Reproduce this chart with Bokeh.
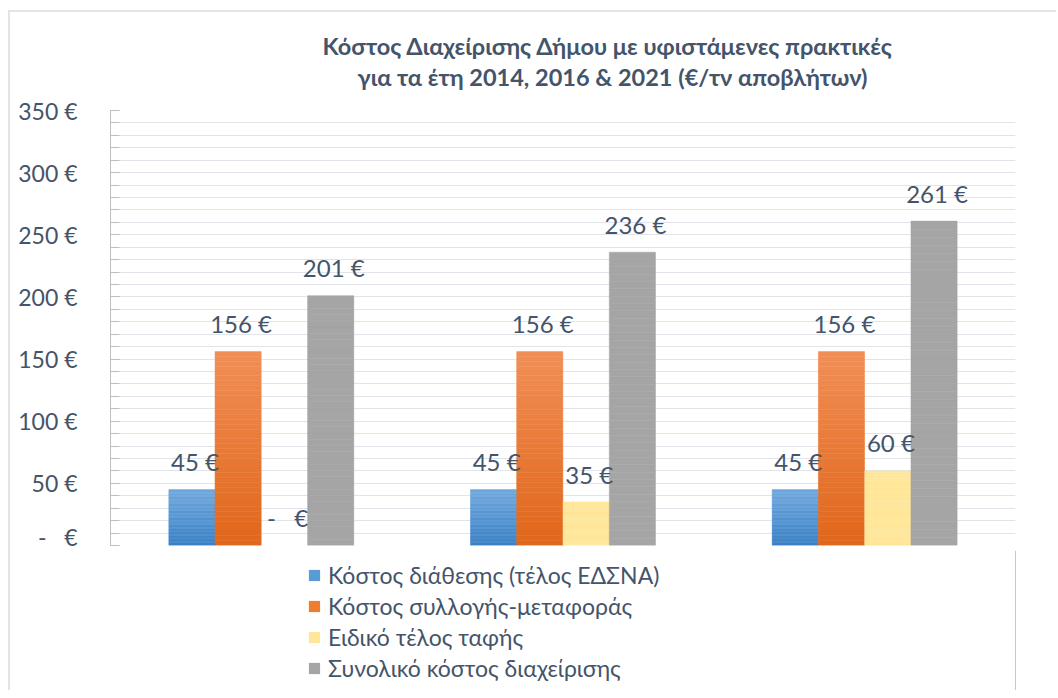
from bokeh.plotting import figure
from bokeh.layouts import column
from bokeh.models import (Range1d, FactorRange, ColumnDataSource, Legend, LegendItem,
                          Title, SingleIntervalTicker)
from bokeh.transform import dodge
from bokeh.core.properties import value
from bokeh.embed import file_html
from bokeh.resources import INLINE

# ---- data ----
years = ["2014", "2016", "2021"]
series_names = ["Κόστος διάθεσης (τέλος ΕΔΣΝΑ)", "Κόστος συλλογής-μεταφοράς",
                "Ειδικό τέλος ταφής", "Συνολικό κόστος διαχείρισης"]
disposal = [45, 45, 45]
collection = [156, 156, 156]
landfill_tax = [0, 35, 60]
total = [201, 236, 261]
y_tick_values = [0, 50, 100, 150, 200, 250, 300, 350]
y_tick_labels = ["-\u00a0\u00a0\u00a0€", "50 €", "100 €", "150 €", "200 €", "250 €", "300 €", "350 €"]
title_lines = ["Κόστος Διαχείρισης Δήμου με υφιστάμενες πρακτικές",
               "για τα έτη 2014, 2016 & 2021 (€/τν αποβλήτων)"]

# ---- styling ----
colors = ["#5b9bd5", "#ed7d31", "#ffe699", "#a5a5a5"]
grad_top = ["#71a8de", "#f18e56", "#ffe699", "#a5a5a5"]
grad_bot = ["#3c82c6", "#e0671a", "#ffe699", "#a5a5a5"]
offsets = [-0.23, -0.077, 0.077, 0.23]
bar_w = 0.153
text_col = "#44546a"
FONT = "Lato"
N_SLICES = 40
LEFT, RIGHT, W = 100, 41, 1046


def fmt(v):
    return "-\u00a0\u00a0\u00a0€" if v == 0 else f"{v} €"


def hex2rgb(h):
    h = h.lstrip("#")
    return [int(h[i:i + 2], 16) for i in (0, 2, 4)]


def mix(c1, c2, t):
    a, b = hex2rgb(c1), hex2rgb(c2)
    return "#%02x%02x%02x" % tuple(int(round(a[k] + (b[k] - a[k]) * t)) for k in range(3))


p = figure(x_range=FactorRange(*years, range_padding=0), y_range=Range1d(0, 350),
           width=W, height=538, output_backend="svg", toolbar_location=None,
           min_border_left=LEFT, min_border_right=RIGHT, min_border_top=98,
           min_border_bottom=5)
p.outline_line_color = None
p.background_fill_color = "white"
p.border_fill_color = "white"

all_series = [disposal, collection, landfill_tax, total]
# bars first (drawn as stacked slices to reproduce the vertical colour gradient)
for vals, c_top, c_bot, off in zip(all_series, grad_top, grad_bot, offsets):
    xs, bots, tops, cols = [], [], [], []
    for yr, v in zip(years, vals):
        if v == 0:
            continue
        for i in range(N_SLICES):
            xs.append(yr)
            bots.append(v * i / N_SLICES)
            tops.append(v * (i + 1) / N_SLICES)
            cols.append(mix(c_bot, c_top, (i + 0.5) / N_SLICES))
    bsrc = ColumnDataSource(dict(year=xs, bottom=bots, top=tops, color=cols))
    p.vbar(x=dodge("year", off, range=p.x_range), bottom="bottom", top="top", width=bar_w,
           source=bsrc, fill_color="color", line_color="color", line_width=0.5)
# then value labels on top
for vals, off in zip(all_series, offsets):
    src = ColumnDataSource(dict(year=years, val=vals, lab=[fmt(v) for v in vals]))
    p.text(x=dodge("year", off, range=p.x_range), y="val", text="lab", source=src,
           text_align="center", text_baseline="middle", x_offset=3, y_offset=-28,
           text_font=value(FONT), text_font_size="24px", text_color=text_col)

# axes
p.xaxis.visible = False
p.xgrid.visible = False
ax = p.yaxis[0]
ax.ticker = SingleIntervalTicker(interval=50, num_minor_ticks=5)
ax.major_label_overrides = {v: l for v, l in zip(y_tick_values, y_tick_labels)}
ax.major_label_text_font = FONT
ax.major_label_text_font_size = "23px"
ax.major_label_text_color = text_col
ax.major_label_standoff = 33
ax.axis_line_color = "#bfbfbf"
ax.major_tick_line_color = "#bfbfbf"
ax.minor_tick_line_color = "#bfbfbf"
ax.major_tick_in = 9
ax.major_tick_out = 0
ax.minor_tick_in = 9
ax.minor_tick_out = 0
p.ygrid.grid_line_color = "#e1e5eb"
p.ygrid.minor_grid_line_color = "#e1e5eb"
p.ygrid.ticker = ax.ticker

# titles (nearest to the frame first)
p.add_layout(Title(text=title_lines[1], align="left", offset=247, text_font=FONT,
                   text_font_size="23.5px", text_font_style="bold",
                   text_color=text_col, standoff=39), "above")
p.add_layout(Title(text=title_lines[0], align="left", offset=212, text_font=FONT,
                   text_font_size="23.5px", text_font_style="bold",
                   text_color=text_col, standoff=-37), "above")

# legend figure below the chart (same side borders so the column keeps frames aligned)
p2 = figure(x_range=Range1d(0, 1), y_range=Range1d(0, 1), width=W, height=140,
            output_backend="svg", toolbar_location=None,
            min_border_left=LEFT, min_border_top=0, min_border_right=RIGHT, min_border_bottom=0)
p2.axis.visible = False
p2.grid.visible = False
p2.outline_line_color = None
items = []
for name, col in zip(series_names, colors):
    r = p2.vbar(x=[10], top=[10], width=0.1, fill_color=col, line_color=None)
    items.append(LegendItem(label=name, renderers=[r]))
legend = Legend(items=items, location=(197, 8), orientation="vertical",
                label_text_font=FONT, label_text_font_size="23px",
                label_text_color=text_col, glyph_width=14, glyph_height=14,
                label_height=26, spacing=3, padding=0, margin=0,
                border_line_color=None, background_fill_alpha=0, label_standoff=7)
p2.add_layout(legend, "center")

layout = column(p, p2, spacing=0)
layout.margin = (10, 0, 0, 8)
layout.styles = {"border-left": "2px solid #e1e5eb", "border-top": "2px solid #e1e5eb"}

open("out.html", "w").write(file_html(layout, INLINE))
